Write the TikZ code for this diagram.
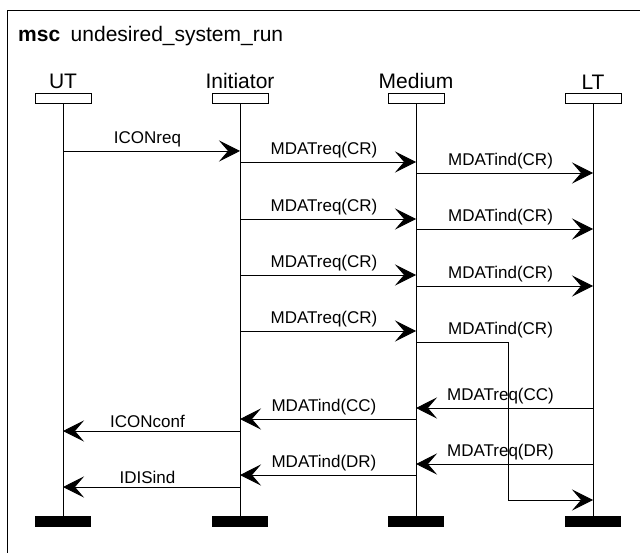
\documentclass[tikz,border=0pt]{standalone}
\usepackage{fontspec}
\setmainfont{Liberation Sans}
\usetikzlibrary{arrows.meta}

\begin{document}
\begin{tikzpicture}[x=1pt,y=-1pt,
        head/.style={draw,line width=0.8pt,minimum width=56pt,minimum height=10pt,inner sep=0pt},
        foot/.style={fill=black,minimum width=56pt,minimum height=11pt,inner sep=0pt},
        msg/.style={line width=0.8pt,-{Stealth[length=21pt,width=21pt,inset=9pt]}},
        lbl/.style={font=\fontsize{17}{20}\selectfont,xshift=-4pt}]
            \useasboundingbox (0,0) rectangle (640,553);
            \draw [line width=0.9pt] (7,10) rectangle (700,600);
            \node[anchor=base west,inner sep=0pt,font=\fontsize{21}{25}\selectfont] (title) at (18,42)
                {\textbf{msc}\hspace{0.5em}undesired\_system\_run};

            \foreach \x/\n/\t in {63/ut/UT,240/init/Initiator,416/med/Medium,593/lt/LT} {
                \node[head] (\n) at (\x,98) {};
                \node[above,font=\fontsize{21}{25}\selectfont] (\n-name) at (\n.north) {\t};
                \node[foot] (\n-end) at (\x,521.5) {};
                \draw [line width=0.8pt] (\n) -- (\n-end);
            }

            \draw [msg] (ut |- 0,151) -- node[lbl,above]{ICONreq} (init |- 0,151);
            \foreach \y in {162,219,275,331} {
                \draw [msg] (init |- 0,\y) -- node[lbl,above]{MDATreq(CR)} (med |- 0,\y);
            }
            \foreach \y in {173,229,286} {
                \draw [msg] (med |- 0,\y) -- node[lbl,above]{MDATind(CR)} (lt |- 0,\y);
            }
            \draw [msg] (med |- 0,342) -- (508,342) -- (508,500) -- (lt |- 0,500);
            \path (med |- 0,342) -- node[lbl,above]{MDATind(CR)} (lt |- 0,342);

            \draw [msg] (lt |- 0,408) -- node[lbl,above]{MDATreq(CC)} (med |- 0,408);
            \draw [msg] (med |- 0,419) -- node[lbl,above]{MDATind(CC)} (init |- 0,419);
            \draw [msg] (init |- 0,431) -- node[lbl,above]{ICONconf} (ut |- 0,431);
            \draw [msg] (lt |- 0,464) -- node[lbl,above]{MDATreq(DR)} (med |- 0,464);
            \draw [msg] (med |- 0,475) -- node[lbl,above]{MDATind(DR)} (init |- 0,475);
            \draw [msg] (init |- 0,487) -- node[lbl,above]{IDISind} (ut |- 0,487);
        \end{tikzpicture}
\end{document}
